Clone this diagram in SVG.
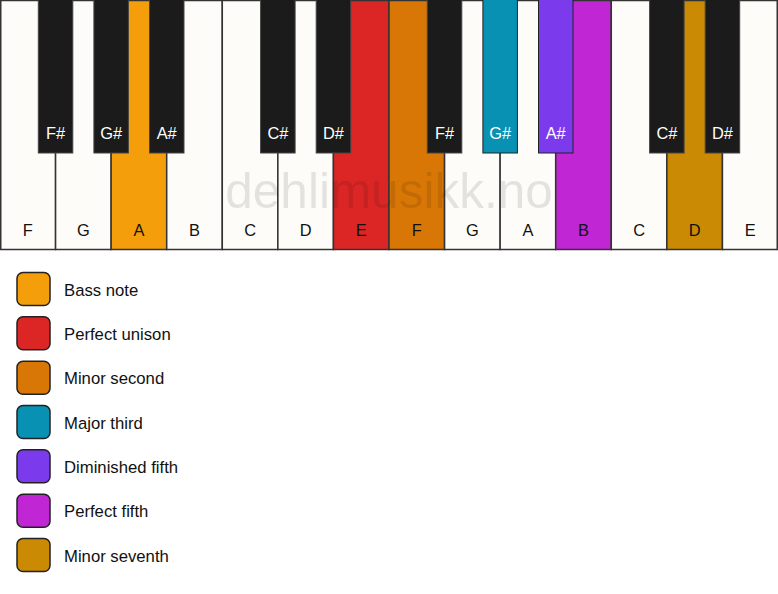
<svg xmlns="http://www.w3.org/2000/svg" width="778" height="594" viewBox="0 0 778 594">
<style>
  .w { fill: #fefcf8; stroke: #333; stroke-width: 1.5; }
  .b { fill: #1b1b1b; stroke: #444; stroke-width: 1; }
  .lab { font-family: "Liberation Sans", Arial, sans-serif; font-size: 16.4px; text-anchor: middle; }
  .wl { fill: #111; }
  .bl { fill: #fff; }
  .leg { stroke: #222; stroke-width: 1.5; }
  .lt { font-family: "Liberation Sans", Arial, sans-serif; font-size: 16.7px; fill: #111; }
  .wm { font-family: "Liberation Sans", Arial, sans-serif; font-size: 49.5px; fill: #000; fill-opacity: 0.1; text-anchor: middle; }
</style>
<rect width="778" height="594" fill="#ffffff"/>
<g id="white-keys">
  <g id="wk-F1"><rect class="w" x="0.75" y="0.5" width="54.82" height="249"/><text class="lab wl" x="27.8" y="235.5">F</text></g>
  <g id="wk-G1"><rect class="w" x="55.57" y="0.5" width="55.57" height="249"/><text class="lab wl" x="83.4" y="235.5">G</text></g>
  <g id="wk-A1"><rect class="w" x="111.14" y="0.5" width="55.57" height="249" style="fill:#f59e0b"/><text class="lab wl" x="138.9" y="235.5">A</text></g>
  <g id="wk-B1"><rect class="w" x="166.71" y="0.5" width="55.57" height="249"/><text class="lab wl" x="194.5" y="235.5">B</text></g>
  <g id="wk-C1"><rect class="w" x="222.29" y="0.5" width="55.57" height="249"/><text class="lab wl" x="250.1" y="235.5">C</text></g>
  <g id="wk-D1"><rect class="w" x="277.86" y="0.5" width="55.57" height="249"/><text class="lab wl" x="305.6" y="235.5">D</text></g>
  <g id="wk-E1"><rect class="w" x="333.43" y="0.5" width="55.57" height="249" style="fill:#dc2626"/><text class="lab wl" x="361.2" y="235.5">E</text></g>
  <g id="wk-F2"><rect class="w" x="389" y="0.5" width="55.57" height="249" style="fill:#d97706"/><text class="lab wl" x="416.8" y="235.5">F</text></g>
  <g id="wk-G2"><rect class="w" x="444.57" y="0.5" width="55.57" height="249"/><text class="lab wl" x="472.4" y="235.5">G</text></g>
  <g id="wk-A2"><rect class="w" x="500.14" y="0.5" width="55.57" height="249"/><text class="lab wl" x="527.9" y="235.5">A</text></g>
  <g id="wk-B2"><rect class="w" x="555.71" y="0.5" width="55.57" height="249" style="fill:#c026d3"/><text class="lab wl" x="583.5" y="235.5">B</text></g>
  <g id="wk-C2"><rect class="w" x="611.29" y="0.5" width="55.57" height="249"/><text class="lab wl" x="639.1" y="235.5">C</text></g>
  <g id="wk-D2"><rect class="w" x="666.86" y="0.5" width="55.57" height="249" style="fill:#ca8a04"/><text class="lab wl" x="694.6" y="235.5">D</text></g>
  <g id="wk-E2"><rect class="w" x="722.43" y="0.5" width="54.82" height="249"/><text class="lab wl" x="750.2" y="235.5">E</text></g>
</g>
<text class="wm" x="389" y="208">dehlimusikk.no</text>
<g id="black-keys">
  <g id="bk-Fs1"><rect class="b" x="38.3" y="-1" width="34.5" height="154"/><text class="lab bl" x="55.6" y="139">F#</text></g>
  <g id="bk-Gs1"><rect class="b" x="93.9" y="-1" width="34.5" height="154"/><text class="lab bl" x="111.1" y="139">G#</text></g>
  <g id="bk-As1"><rect class="b" x="149.5" y="-1" width="34.5" height="154"/><text class="lab bl" x="166.7" y="139">A#</text></g>
  <g id="bk-Cs1"><rect class="b" x="260.6" y="-1" width="34.5" height="154"/><text class="lab bl" x="277.9" y="139">C#</text></g>
  <g id="bk-Ds1"><rect class="b" x="316.2" y="-1" width="34.5" height="154"/><text class="lab bl" x="333.4" y="139">D#</text></g>
  <g id="bk-Fs2"><rect class="b" x="427.3" y="-1" width="34.5" height="154"/><text class="lab bl" x="444.6" y="139">F#</text></g>
  <g id="bk-Gs2"><rect class="b" x="482.9" y="-1" width="34.5" height="154" style="fill:#0891b2;stroke:#222"/><text class="lab bl" x="500.1" y="139">G#</text></g>
  <g id="bk-As2"><rect class="b" x="538.5" y="-1" width="34.5" height="154" style="fill:#7c3aed;stroke:#222"/><text class="lab bl" x="555.7" y="139">A#</text></g>
  <g id="bk-Cs2"><rect class="b" x="649.6" y="-1" width="34.5" height="154"/><text class="lab bl" x="666.9" y="139">C#</text></g>
  <g id="bk-Ds2"><rect class="b" x="705.2" y="-1" width="34.5" height="154"/><text class="lab bl" x="722.4" y="139">D#</text></g>
</g>
<g id="legend">
  <g id="leg-bass"><rect class="leg" x="17" y="272.5" width="33" height="33" rx="6" fill="#f59e0b"/><text class="lt" x="64" y="295.5">Bass note</text></g>
  <g id="leg-unison"><rect class="leg" x="17" y="316.8" width="33" height="33" rx="6" fill="#dc2626"/><text class="lt" x="64" y="339.8">Perfect unison</text></g>
  <g id="leg-m2"><rect class="leg" x="17" y="361.2" width="33" height="33" rx="6" fill="#d97706"/><text class="lt" x="64" y="384.2">Minor second</text></g>
  <g id="leg-M3"><rect class="leg" x="17" y="405.5" width="33" height="33" rx="6" fill="#0891b2"/><text class="lt" x="64" y="428.5">Major third</text></g>
  <g id="leg-d5"><rect class="leg" x="17" y="449.8" width="33" height="33" rx="6" fill="#7c3aed"/><text class="lt" x="64" y="472.8">Diminished fifth</text></g>
  <g id="leg-P5"><rect class="leg" x="17" y="494.2" width="33" height="33" rx="6" fill="#c026d3"/><text class="lt" x="64" y="517.2">Perfect fifth</text></g>
  <g id="leg-m7"><rect class="leg" x="17" y="538.5" width="33" height="33" rx="6" fill="#ca8a04"/><text class="lt" x="64" y="561.5">Minor seventh</text></g>
</g>
</svg>
